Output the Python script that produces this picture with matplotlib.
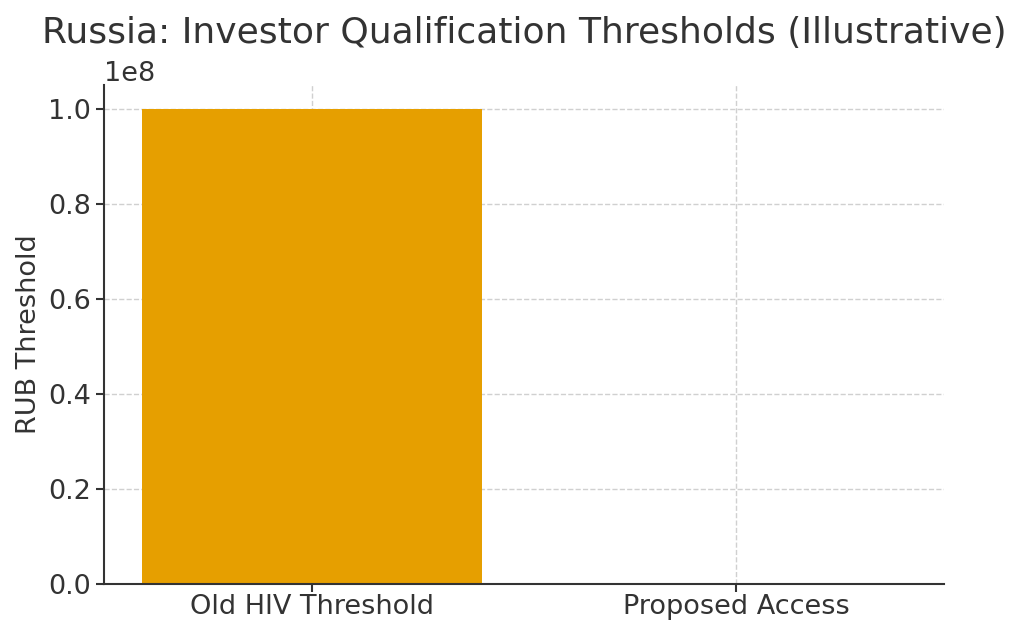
import matplotlib.pyplot as plt
import numpy as np

categories = ["Old HIV Threshold", "Proposed Access"]
thresholds = [100_000_000, 0]

plt.rcParams.update({
    "font.family": "DejaVu Sans",
    "text.color": "#333333",
    "axes.labelcolor": "#333333",
    "xtick.color": "#333333",
    "ytick.color": "#333333",
    "axes.edgecolor": "#333333",
})

fig = plt.figure(figsize=(10.24, 6.35), dpi=100)
ax = fig.add_axes([0.1016, 0.0803, 0.8203, 0.7858])

x = np.arange(len(categories))
ax.bar(x, thresholds, width=0.8, color="#E69F00", zorder=2)
ax.set_xticks(x)
ax.set_xticklabels(categories, fontsize=19.5)
ax.tick_params(axis="y", labelsize=19.5, width=1.5, length=6)
ax.tick_params(axis="x", width=1.5, length=6, pad=1.5)
ax.yaxis.get_offset_text().set_fontsize(19.5)
ax.set_ylabel("RUB Threshold", fontsize=19.5)
ax.set_title("Russia: Investor Qualification Thresholds (Illustrative)", fontsize=26, pad=30)

ax.grid(True, linestyle="--", color="#d0d0d0", linewidth=1.0, zorder=0)
ax.spines["top"].set_visible(False)
ax.spines["right"].set_visible(False)
ax.spines["left"].set_linewidth(1.5)
ax.spines["bottom"].set_linewidth(1.5)

fig.savefig("out.png", dpi=100)
